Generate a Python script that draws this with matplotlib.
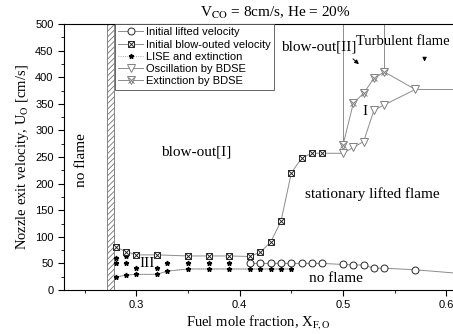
import matplotlib
matplotlib.use("Agg")
import matplotlib.pyplot as plt
from matplotlib.legend_handler import HandlerTuple
from matplotlib.ticker import MultipleLocator

plt.rcParams['mathtext.fontset'] = 'stix'
plt.rcParams['hatch.linewidth'] = 0.6
SERIF = 'Liberation Serif'
SANS = 'Liberation Sans'

# ---- data ----
lift_x = [0.41, 0.42, 0.43, 0.44, 0.45, 0.46, 0.47, 0.48, 0.50, 0.51, 0.52, 0.53, 0.54, 0.57, 0.62]
lift_y = [50, 50, 50, 50, 50, 50, 50, 50, 48, 47, 47, 41, 41, 38, 30]

blow_x = [0.28, 0.29, 0.30, 0.32, 0.35, 0.37, 0.39, 0.41, 0.42, 0.43, 0.44, 0.45, 0.46, 0.47, 0.48, 0.50]
blow_y = [81, 72, 66, 66, 64, 64, 64, 63, 71, 90, 129, 220, 248, 257, 257, 257]

lise_x = [0.28, 0.29, 0.30, 0.32, 0.33, 0.35, 0.37, 0.39, 0.41, 0.42, 0.43, 0.44, 0.45]
lise_y = [24, 28, 29.5, 29.5, 35.5, 39.5, 39.5, 39.5, 39.5, 39.5, 39.5, 39.5, 39.5]

star_x = [0.28, 0.28, 0.29, 0.29, 0.30, 0.32, 0.33, 0.35, 0.37, 0.39]
star_y = [61, 50, 64, 50, 42, 42, 50, 50, 50, 50]

osc_x = [0.50, 0.51, 0.52, 0.53, 0.54, 0.57]
osc_y = [257, 268, 279, 338, 348, 377]

ext_x = [0.50, 0.51, 0.52, 0.53, 0.54, 0.57]
ext_y = [272, 351, 370, 398, 410, 377]

xlim = (0.23, 0.6065)
ylim = (0, 500)

fig = plt.figure(figsize=(4.53, 3.34), dpi=100)
ax = fig.add_axes([64/453, 44/334, 1 - 64/453, 266/334])
ax.set_xlim(*xlim)
ax.set_ylim(*ylim)

LC = '0.55'
ms = 5

# hatched no-flame band
ax.axvspan(0.2715, 0.278, facecolor='white', edgecolor='0.45', hatch='//////', lw=0.6, zorder=1)

# lifted velocity
l1, = ax.plot(lift_x, lift_y, color=LC, lw=0.7, marker='o', ms=ms, mfc='white',
              mec='0.15', mew=0.7, zorder=3)
# blow-out velocity
l2l, = ax.plot(blow_x, blow_y, color=LC, lw=0.7, zorder=2)
l2a, = ax.plot(blow_x[:-1], blow_y[:-1], ls='none', marker='s', ms=ms, mfc='white',
               mec='0.15', mew=0.7, zorder=4)
l2b, = ax.plot(blow_x[:-1], blow_y[:-1], ls='none', marker='x', ms=ms*0.75,
               mec='0.15', mew=0.7, zorder=5)
# LISE and extinction
l3, = ax.plot(lise_x, lise_y, color=LC, lw=0.6, ls=':', marker='*', ms=3.5,
              mfc='black', mec='black', zorder=3)
ax.plot(lise_x, lise_y, color=LC, lw=0.6, zorder=2)
ax.plot(star_x, star_y, ls='none', marker='*', ms=3.5, mfc='black', mec='black', zorder=3)
# oscillation by BDSE
l4, = ax.plot(osc_x, osc_y, color=LC, lw=0.7, marker='v', ms=ms+1, mfc='white',
              mec='0.5', mew=0.7, zorder=3)
# extinction by BDSE
l5l, = ax.plot(ext_x, ext_y, color=LC, lw=0.7, zorder=2)
l5a, = ax.plot(ext_x[:-1], ext_y[:-1], ls='none', marker='v', ms=ms+1, mfc='white',
               mec='0.5', mew=0.7, zorder=4)
l5b, = ax.plot(ext_x[:-1], ext_y[:-1], ls='none', marker='x', ms=ms*0.8,
               mec='0.5', mew=0.7, zorder=5)

# boundary lines
ax.plot([ext_x[0], ext_x[0]], [ext_y[0], ylim[1]], color=LC, lw=0.7, zorder=2)
ax.plot([ext_x[4], ext_x[4]], [ext_y[4], ylim[1]], color=LC, lw=0.7, zorder=2)
ax.plot([osc_x[-1], xlim[1]], [osc_y[-1], osc_y[-1]], color=LC, lw=0.7, zorder=2)

# arrows
ax.annotate('', xy=(0.5174, 421), xytext=(0.5077, 438),
            arrowprops=dict(arrowstyle='-|>', color='black', lw=0.7, mutation_scale=6))
ax.annotate('', xy=(0.579, 424), xytext=(0.579, 440),
            arrowprops=dict(arrowstyle='-|>', color='black', lw=0.7, mutation_scale=6))

# texts
tk = dict(family=SERIF, fontsize=11, ha='center', va='center')
ax.text(0.247, 245, 'no flame', rotation=90, **tk)
ax.text(0.358, 260, 'blow-out[I]', **tk)
ax.text(0.477, 457, 'blow-out[II]', **tk)
ax.text(0.6035, 468, 'Turbulent flame', family=SERIF, fontsize=10.5, ha='right', va='center')
ax.text(0.521, 336, 'I', **tk)
ax.text(0.528, 180, 'stationary lifted flame', **tk)
ax.text(0.493, 22, 'no flame', **tk)
ax.text(0.3106, 50, 'III', **tk)
fig.text(275/453, 1 - 13/334, 'V$_{\\rm CO}$ = 8cm/s, He = 20%', family=SERIF,
         fontsize=11, ha='center', va='center')

# axes styling
ax.set_xlabel('Fuel mole fraction, X$_{\\rm F,O}$', family=SERIF, fontsize=10.5, labelpad=2)
ax.set_ylabel('Nozzle exit velocity, U$_{\\rm O}$ [cm/s]', family=SERIF, fontsize=10.5, labelpad=3)
ax.xaxis.set_major_locator(MultipleLocator(0.1))
ax.xaxis.set_minor_locator(MultipleLocator(0.05))
ax.yaxis.set_major_locator(MultipleLocator(50))
ax.yaxis.set_minor_locator(MultipleLocator(25))
ax.tick_params(which='both', direction='out', top=False, right=False, labelsize=8)
ax.tick_params(which='major', length=4, width=0.8)
ax.tick_params(which='minor', length=2.5, width=0.6)
for lab in ax.get_xticklabels() + ax.get_yticklabels():
    lab.set_family(SANS)
ax.spines['right'].set_visible(False)
for s in ('left', 'bottom', 'top'):
    ax.spines[s].set_linewidth(0.8)

leg = ax.legend([l1, (l2l, l2a, l2b), l3, l4, (l5l, l5a, l5b)],
                ['Initial lifted velocity', 'Initial blow-outed velocity', 'LISE and extinction',
                 'Oscillation by BDSE', 'Extinction by BDSE'],
                handler_map={tuple: HandlerTuple(ndivide=1, pad=0)},
                loc='upper left', bbox_to_anchor=((115 - 64) / 389, 1.0), borderaxespad=0,
                prop={'family': SANS, 'size': 8}, frameon=True, fancybox=False,
                edgecolor='0.3', labelspacing=0.2, handlelength=2.2, handletextpad=0.3,
                borderpad=0.3, framealpha=1)
leg.get_frame().set_linewidth(0.6)

fig.savefig('out.png', dpi=100)
